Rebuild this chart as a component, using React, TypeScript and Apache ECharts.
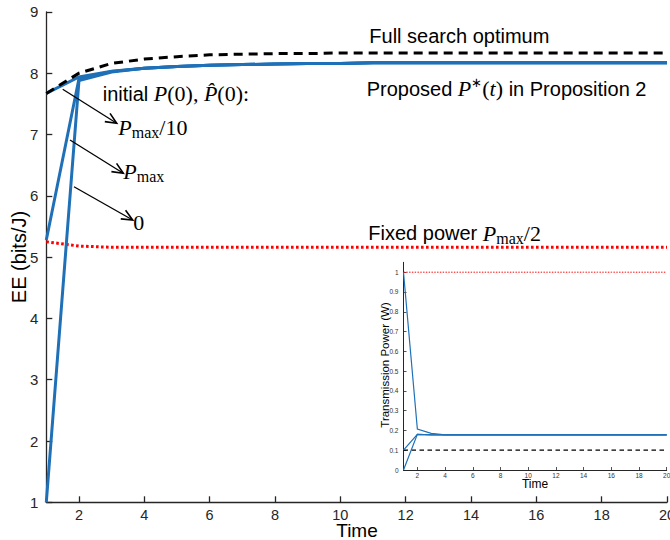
import React, { useEffect, useRef } from "react";
import * as echarts from "echarts";

// ---------- data ----------
const TIME = [1, 2, 3, 4, 5, 6, 7, 8, 9, 10, 11, 12, 13, 14, 15, 16, 17, 18, 19, 20];
const X_TICKS = [2, 4, 6, 8, 10, 12, 14, 16, 18, 20];
const EE_TICKS = [1, 2, 3, 4, 5, 6, 7, 8, 9];
const P_TICKS = [0, 0.1, 0.2, 0.3, 0.4, 0.5, 0.6, 0.7, 0.8, 0.9, 1];

// main chart: energy efficiency (bits/J)
const EE_FULL_SEARCH = [7.67, 8.0, 8.16, 8.23, 8.27, 8.3, 8.31, 8.32, 8.32, 8.33, 8.33, 8.33, 8.33, 8.33, 8.33, 8.33, 8.33, 8.33, 8.33, 8.33];
const EE_PROP_PMAX10 = [7.67, 7.94, 8.03, 8.08, 8.11, 8.13, 8.14, 8.15, 8.16, 8.16, 8.17, 8.17, 8.17, 8.17, 8.17, 8.17, 8.17, 8.17, 8.17, 8.17];
const EE_PROP_PMAX = [5.28, 7.91, 8.03, 8.08, 8.11, 8.13, 8.14, 8.15, 8.16, 8.16, 8.17, 8.17, 8.17, 8.17, 8.17, 8.17, 8.17, 8.17, 8.17, 8.17];
const EE_PROP_ZERO = [1.0, 7.88, 8.02, 8.08, 8.11, 8.13, 8.14, 8.15, 8.16, 8.16, 8.17, 8.17, 8.17, 8.17, 8.17, 8.17, 8.17, 8.17, 8.17, 8.17];
const EE_FIXED = [5.25, 5.18, 5.16, 5.16, 5.16, 5.16, 5.16, 5.16, 5.16, 5.16, 5.16, 5.16, 5.16, 5.16, 5.16, 5.16, 5.16, 5.16, 5.16, 5.16];

// inset: transmission power (W)
const P_PROP_PMAX = [1.0, 0.207, 0.185, 0.178, 0.178, 0.178, 0.178, 0.178, 0.178, 0.178, 0.178, 0.178, 0.178, 0.178, 0.178, 0.178, 0.178, 0.178, 0.178, 0.178];
const P_PROP_PMAX10 = [0.1, 0.18, 0.178, 0.178, 0.178, 0.178, 0.178, 0.178, 0.178, 0.178, 0.178, 0.178, 0.178, 0.178, 0.178, 0.178, 0.178, 0.178, 0.178, 0.178];
const P_PROP_ZERO = [0.0, 0.18, 0.178, 0.178, 0.178, 0.178, 0.178, 0.178, 0.178, 0.178, 0.178, 0.178, 0.178, 0.178, 0.178, 0.178, 0.178, 0.178, 0.178, 0.178];
const P_FULL_SEARCH = [0.1, 0.1, 0.1, 0.1, 0.1, 0.1, 0.1, 0.1, 0.1, 0.1, 0.1, 0.1, 0.1, 0.1, 0.1, 0.1, 0.1, 0.1, 0.1, 0.1];
const P_FIXED = [1.0, 1.0, 1.0, 1.0, 1.0, 1.0, 1.0, 1.0, 1.0, 1.0, 1.0, 1.0, 1.0, 1.0, 1.0, 1.0, 1.0, 1.0, 1.0, 1.0];

// ---------- styles ----------
const SANS = "'Liberation Sans', Arial, Helvetica, sans-serif";
const SERIF = "'Liberation Serif', 'Times New Roman', serif";
const AXIS = "#262626";
const BLUE = "#1f70b6";
const RED = "#ff0000";

const zip = (ys: number[]) => TIME.map((t, i) => [t, ys[i]]);

const RICH = {
  s: { fontFamily: SANS, fontSize: 20, fill: "#000", lineHeight: 26 },
  mi: { fontFamily: SERIF, fontStyle: "italic", fontSize: 22, fill: "#000", lineHeight: 26 },
  mr: { fontFamily: SERIF, fontSize: 22, fill: "#000", lineHeight: 26 },
  sub: { fontFamily: SERIF, fontSize: 16, fill: "#000", lineHeight: 16, verticalAlign: "bottom" },
  sup: { fontFamily: SERIF, fontSize: 13, fill: "#000", lineHeight: 15, verticalAlign: "top" },
};

function label(x: number, y: number, text: string) {
  return {
    type: "text",
    x,
    y,
    z: 100,
    style: { text, rich: RICH, align: "left", verticalAlign: "top", fill: "#000" },
  };
}

function arrow(x1: number, y1: number, x2: number, y2: number) {
  const ang = Math.atan2(y2 - y1, x2 - x1);
  const L = 12;
  const a = (24 * Math.PI) / 180;
  const p1 = [x2 - L * Math.cos(ang - a), y2 - L * Math.sin(ang - a)];
  const p2 = [x2 - L * Math.cos(ang + a), y2 - L * Math.sin(ang + a)];
  return [
    { type: "line", z: 100, shape: { x1, y1, x2, y2 }, style: { stroke: "#000", lineWidth: 1.3 } },
    { type: "polyline", z: 100, shape: { points: [p1, [x2, y2], p2] }, style: { stroke: "#000", lineWidth: 1.6, fill: null } },
  ];
}

function line(name: string, ys: number[], idx: number, color: string, width: number, type: any, z = 2) {
  return {
    name,
    type: "line",
    xAxisIndex: idx,
    yAxisIndex: idx,
    data: zip(ys),
    showSymbol: false,
    symbol: "none",
    z,
    lineStyle: { color, width, type, cap: "butt", join: "miter" },
  };
}

export default function App() {
  const ref = useRef<HTMLDivElement>(null);
  useEffect(() => {
    if (!ref.current) return;
    const chart = echarts.init(ref.current, null, { renderer: "svg" });
    const mainLeft = 46.3;
    const mainTop = 11.9;
    const mainW = 620.7;
    const mainH = 490.4;
    const inLeft = 403.5;
    const inTop = 262.3;
    const inW = 263.2;
    const inH = 207.7;

    const option: any = {
      animation: false,
      backgroundColor: "#fff",
      grid: [
        { left: mainLeft, top: mainTop, width: mainW, height: mainH, containLabel: false, outerBoundsMode: "none" },
        {
          left: inLeft,
          top: inTop,
          width: inW,
          height: inH,
          containLabel: false,
          outerBoundsMode: "none",
          show: true,
          backgroundColor: "#fff",
          borderWidth: 0,
          z: 5,
        },
      ],
      xAxis: [
        {
          type: "value",
          gridIndex: 0,
          min: 1,
          max: 20,
          axisLine: { show: true, onZero: false, lineStyle: { color: AXIS, width: 1.3 } },
          axisTick: { show: true, inside: true, length: 6, customValues: X_TICKS, lineStyle: { color: AXIS, width: 1.3 } },
          axisLabel: { customValues: X_TICKS, fontSize: 14.5, color: AXIS, fontFamily: SANS, margin: 5, hideOverlap: false },
          splitLine: { show: false },
        },
        {
          type: "value",
          gridIndex: 1,
          min: 1,
          max: 20,
          z: 6,
          axisLine: { show: true, onZero: false, lineStyle: { color: AXIS, width: 1 } },
          axisTick: { show: true, inside: true, length: 3, customValues: X_TICKS, lineStyle: { color: AXIS, width: 0.8 } },
          axisLabel: { customValues: X_TICKS, fontSize: 6.5, color: "#333", fontFamily: SANS, margin: 2, hideOverlap: false },
          splitLine: { show: false },
        },
      ],
      yAxis: [
        {
          type: "value",
          gridIndex: 0,
          min: 1,
          max: 9,
          interval: 1,
          axisLine: { show: true, onZero: false, lineStyle: { color: AXIS, width: 1.3 } },
          axisTick: { show: true, inside: true, length: 6, customValues: EE_TICKS, lineStyle: { color: AXIS, width: 1.3 } },
          axisLabel: { customValues: EE_TICKS, fontSize: 15, color: AXIS, fontFamily: SANS, margin: 8 },
          splitLine: { show: false },
        },
        {
          type: "value",
          gridIndex: 1,
          min: 0,
          max: 1.05,
          z: 6,
          axisLine: { show: true, onZero: false, lineStyle: { color: AXIS, width: 1 } },
          axisTick: { show: true, inside: true, length: 3, customValues: P_TICKS, lineStyle: { color: AXIS, width: 0.8 } },
          axisLabel: { customValues: P_TICKS, fontSize: 6.5, color: "#333", fontFamily: SANS, margin: 5 },
          splitLine: { show: false },
        },
      ],
      series: [
        line("Fixed power", EE_FIXED, 0, RED, 3, [2.6, 2.4]),
        line("Proposed Pmax/10", EE_PROP_PMAX10, 0, BLUE, 3, "solid"),
        line("Proposed Pmax", EE_PROP_PMAX, 0, BLUE, 3, "solid"),
        line("Proposed 0", EE_PROP_ZERO, 0, BLUE, 3, "solid"),
        line("Full search optimum", EE_FULL_SEARCH, 0, "#000", 3, [9, 6], 3),
        line("Inset fixed", P_FIXED, 1, RED, 1, [1.4, 1.4], 10),
        line("Inset full search", P_FULL_SEARCH, 1, "#000", 1.3, [4.5, 3.5], 10),
        line("Inset Pmax", P_PROP_PMAX, 1, BLUE, 1.2, "solid", 10),
        line("Inset Pmax/10", P_PROP_PMAX10, 1, BLUE, 1.2, "solid", 10),
        line("Inset 0", P_PROP_ZERO, 1, BLUE, 1.2, "solid", 10),
      ],
      graphic: [
        // axis titles
        {
          type: "text",
          x: 357,
          y: 530.5,
          style: { text: "Time", font: `19px ${SANS}`, fill: "#000", align: "center", verticalAlign: "middle" },
        },
        {
          type: "text",
          x: 18.5,
          y: 257,
          rotation: Math.PI / 2,
          style: { text: "EE (bits/J)", font: `20px ${SANS}`, fill: "#000", align: "center", verticalAlign: "middle" },
        },
        {
          type: "text",
          x: 535,
          y: 484,
          z: 100,
          style: { text: "Time", font: `12px ${SANS}`, fill: "#000", align: "center", verticalAlign: "middle" },
        },
        {
          type: "text",
          x: 385,
          y: 365,
          z: 100,
          rotation: Math.PI / 2,
          style: { text: "Transmission Power (W)", font: `11.5px ${SANS}`, fill: "#000", align: "center", verticalAlign: "middle" },
        },
        // annotations
        label(369.3, 22.5, "{s|Full search optimum}"),
        label(366.7, 75.8, "{s|Proposed }{mi|P}{sup|∗}{mr|(}{mi|t}{mr|)}{s| in Proposition 2}"),
        label(368.3, 220.1, "{s|Fixed power }{mi|P}{sub|max}{mr|/2}"),
        label(102.7, 80.7, "{s|initial }{mi|P}{mr|(0), }{mi|P̂}{mr|(0):}"),
        label(118.3, 114.7, "{mi|P}{sub|max}{mr|/10}"),
        label(123.3, 158.7, "{mi|P}{sub|max}"),
        label(133.3, 209.7, "{mr|0}"),
        ...arrow(62.7, 89.3, 116.7, 123.3),
        ...arrow(70, 140, 123.3, 173.3),
        ...arrow(74, 186.7, 132.7, 220),
      ],
    };
    chart.setOption(option);
    return () => chart.dispose();
  }, []);
  return (
    <div
      ref={ref}
      style={{ position: "absolute", left: 0, top: 0, width: 670, height: 540, background: "#fff" }}
    />
  );
}
